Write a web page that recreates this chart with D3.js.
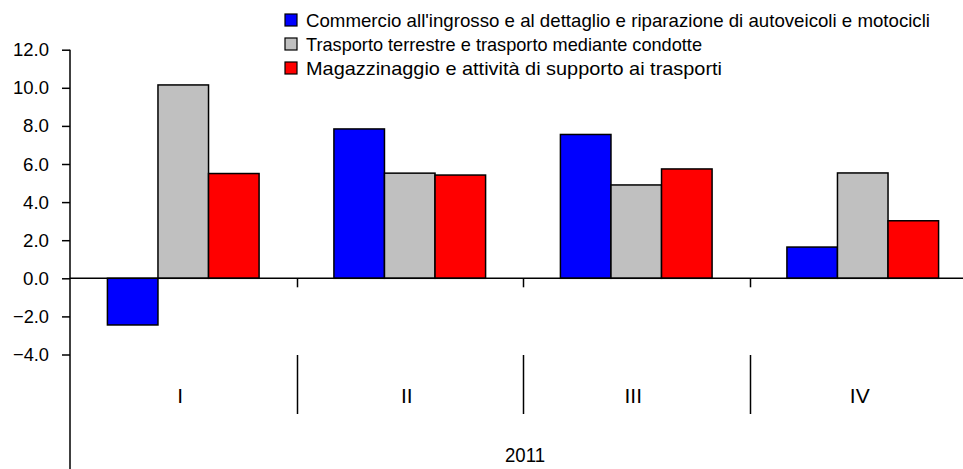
<!DOCTYPE html>
<html>
<head>
<meta charset="utf-8">
<script src="https://cdn.jsdelivr.net/npm/d3@7"></script>
<style>
  body { margin: 0; background: #fff; }
  svg { display: block; font-family: "Liberation Sans", Arial, sans-serif; }
</style>
</head>
<body>
<svg id="chart" width="963" height="469"></svg>
<script>
// chart data
const quarters = ["I", "II", "III", "IV"];
const year = "2011";
const seriesNames = [
  "Commercio all'ingrosso e al dettaglio e riparazione di autoveicoli e motocicli",
  "Trasporto terrestre e trasporto mediante condotte",
  "Magazzinaggio e attività di supporto ai trasporti"
];
const commercio = [-2.45, 7.84, 7.55, 1.64];
const trasportoTerrestre = [10.15, 5.52, 4.9, 5.53];
const magazzinaggio = [5.5, 5.42, 5.74, 3.02];
const yTicks = [-4, -2, 0, 2, 4, 6, 8, 10, 12];
const colors = ["#0000ff", "#c0c0c0", "#ff0000"];

const values = [commercio, trasportoTerrestre, magazzinaggio];
const svg = d3.select("#chart");

// scales
const left = 70;
const x0 = d3.scaleBand().domain(quarters).range([left, 976]).padding(0);
const x1 = d3.scaleBand().domain(d3.range(seriesNames.length))
  .range([0, x0.bandwidth()]).paddingInner(0).paddingOuter(0.74);
const y = d3.scaleLinear().domain([-4, 12]).range([354.5, 49.7]);

// y axis
const yAxis = svg.append("g")
  .attr("transform", `translate(${left},0)`)
  .call(d3.axisLeft(y).tickValues(yTicks).tickFormat(d3.format(".1f"))
    .tickSize(8).tickPadding(13).tickSizeOuter(0));
yAxis.select(".domain").remove();
yAxis.selectAll("line").attr("stroke", "#000").attr("stroke-width", 1.5);
yAxis.selectAll("text")
  .style("font-size", "19px")
  .attr("fill", "#000")
  .attr("font-family", "Liberation Sans, Arial, sans-serif")
  .attr("lengthAdjust", "spacingAndGlyphs");
yAxis.selectAll("text").filter(d => d < 0 || d >= 10)
  .attr("textLength", 36);
yAxis.selectAll("text").filter(d => d >= 0 && d < 10)
  .attr("textLength", 26);

svg.append("line")
  .attr("x1", left).attr("x2", left)
  .attr("y1", y(12)).attr("y2", 469)
  .attr("stroke", "#000").attr("stroke-width", 1.5);

// bars
quarters.forEach((q, qi) => {
  svg.append("g")
    .selectAll("rect")
    .data(values.map((v, si) => ({ si, v: v[qi] })))
    .join("rect")
    .attr("x", d => x0(q) + x1(d.si))
    .attr("width", x1.bandwidth())
    .attr("y", d => y(Math.max(0, d.v)))
    .attr("height", d => Math.abs(y(d.v) - y(0)))
    .attr("fill", d => colors[d.si])
    .attr("stroke", "#000")
    .attr("stroke-width", 1.5);
});

// x axis line at zero
svg.append("line")
  .attr("x1", left).attr("x2", 976)
  .attr("y1", y(0)).attr("y2", y(0))
  .attr("stroke", "#000").attr("stroke-width", 1.5);

// ticks and separators between quarters
quarters.slice(1).forEach(q => {
  const xx = Math.round(x0(q)) + 0.5;
  svg.append("line")
    .attr("x1", xx).attr("x2", xx)
    .attr("y1", y(0)).attr("y2", y(0) + 9)
    .attr("stroke", "#000").attr("stroke-width", 1.5);
  svg.append("line")
    .attr("x1", xx).attr("x2", xx)
    .attr("y1", 355).attr("y2", 414)
    .attr("stroke", "#000").attr("stroke-width", 1.5);
});

// category labels
svg.append("g")
  .selectAll("text")
  .data(quarters)
  .join("text")
  .attr("x", d => x0(d) + x0.bandwidth() / 2 - 3)
  .attr("y", 396)
  .attr("dy", "0.35em")
  .attr("text-anchor", "middle")
  .style("font-size", "21px")
  .text(d => d);

svg.append("text")
  .attr("x", (x0.range()[0] + x0.range()[1]) / 2 + 2)
  .attr("y", 455)
  .attr("dy", "0.35em")
  .attr("text-anchor", "middle")
  .style("font-size", "21px")
  .attr("textLength", 40)
  .attr("lengthAdjust", "spacingAndGlyphs")
  .text(year);

// legend
const legendWidths = [624, 396, 416];
const legend = svg.append("g")
  .selectAll("g")
  .data(seriesNames)
  .join("g")
  .attr("transform", (d, i) => `translate(285,${20 + i * 24})`);

legend.append("rect")
  .attr("x", 0).attr("y", -6)
  .attr("width", 12).attr("height", 12)
  .attr("fill", (d, i) => colors[i])
  .attr("stroke", "#000")
  .attr("stroke-width", 1.2);

legend.append("text")
  .attr("x", 21)
  .attr("dy", "0.35em")
  .style("font-size", "19px")
  .attr("textLength", (d, i) => legendWidths[i])
  .attr("lengthAdjust", "spacingAndGlyphs")
  .text(d => d);
</script>
</body>
</html>
